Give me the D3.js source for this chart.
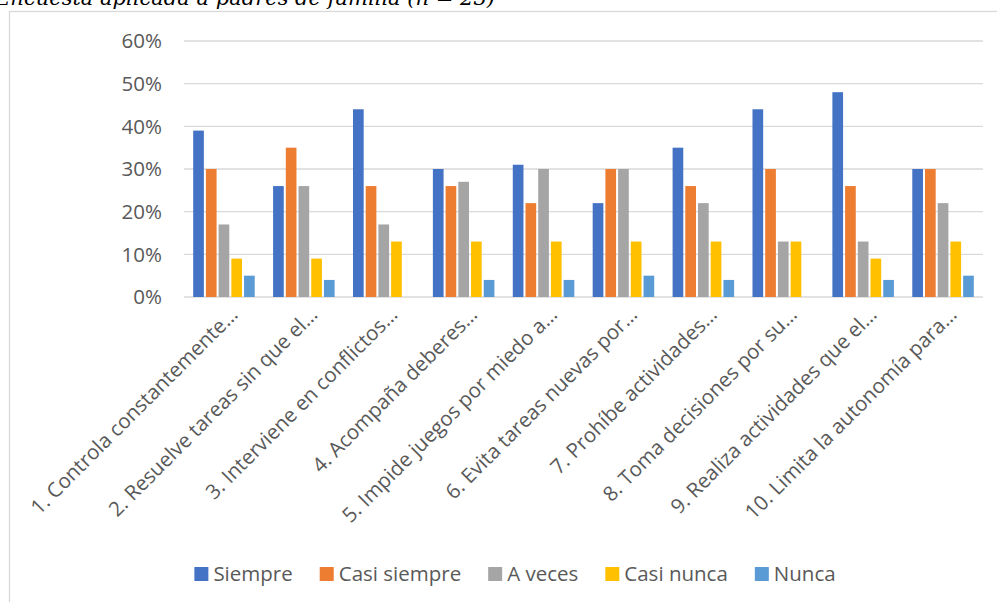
<!DOCTYPE html>
<html>
<head>
<meta charset="utf-8">
<script src="https://cdn.jsdelivr.net/npm/d3@7"></script>
<style>
  html, body { margin: 0; padding: 0; background: #fff; overflow: hidden; }
  svg { display: block; }
</style>
</head>
<body>
<svg id="chart" width="997" height="602"></svg>
<script>
const caption = "Encuesta aplicada a padres de familia (n = 23)";
const categories = [
  "1. Controla constantemente…",
  "2. Resuelve tareas sin que el…",
  "3. Interviene en conflictos…",
  "4. Acompaña deberes…",
  "5. Impide juegos por miedo a…",
  "6. Evita tareas nuevas por…",
  "7. Prohíbe actividades…",
  "8. Toma decisiones por su…",
  "9. Realiza actividades que el…",
  "10. Limita la autonomía para…"
];
const seriesNames = ["Siempre", "Casi siempre", "A veces", "Casi nunca", "Nunca"];
const siempre     = [39, 26, 44, 30, 31, 22, 35, 44, 48, 30];
const casiSiempre = [30, 35, 26, 26, 22, 30, 26, 30, 26, 30];
const aVeces      = [17, 26, 17, 27, 30, 30, 22, 13, 13, 22];
const casiNunca   = [ 9,  9, 13, 13, 13, 13, 13, 13,  9, 13];
const nunca       = [ 5,  4,  0,  4,  4,  5,  4,  0,  4,  5];
const yTicks = [0, 10, 20, 30, 40, 50, 60];
const colors = ["#4472C4", "#ED7D31", "#A5A5A5", "#FFC000", "#5B9BD5"];

const seriesValues = [siempre, casiSiempre, aVeces, casiNunca, nunca];
const svg = d3.select("#chart");
const textColor = "#595959";
const font = "'Open Sans', sans-serif";

// chart frame (clipped by window at right and bottom)
svg.append("rect")
  .attr("x", 9.5).attr("y", 11.5)
  .attr("width", 1000).attr("height", 600)
  .attr("fill", "#fff").attr("stroke", "#D9D9D9").attr("stroke-width", 1.3);

// caption partially cut at top, as in the reference
svg.append("text")
  .attr("x", 495).attr("y", 5)
  .attr("text-anchor", "end")
  .attr("font-family", "'DejaVu Serif', serif")
  .attr("font-style", "italic")
  .attr("font-size", 21)
  .attr("textLength", 500)
  .attr("lengthAdjust", "spacingAndGlyphs")
  .attr("fill", "#000")
  .text(caption);

const plotL = 184, plotR = 983, plotT = 41, plotB = 297;
const x0 = d3.scaleBand().domain(categories).range([plotL, plotR]).paddingInner(0.23).paddingOuter(0.115);
const x1 = d3.scaleBand().domain(seriesNames).range([0, x0.bandwidth()]).paddingInner(0.16);
const y = d3.scaleLinear().domain([0, 60]).range([plotB, plotT]);

// gridlines
svg.append("g").selectAll("line").data(yTicks).join("line")
  .attr("x1", plotL).attr("x2", plotR)
  .attr("y1", d => y(d)).attr("y2", d => y(d))
  .attr("stroke", "#D9D9D9").attr("stroke-width", d => d === 0 ? 1.6 : 1.3);

// y axis labels
const yAxis = d3.axisLeft(y).tickValues(yTicks).tickFormat(d => d + "%").tickSize(0).tickPadding(0);
const yg = svg.append("g").attr("transform", `translate(162,0)`).call(yAxis);
yg.select(".domain").remove();
yg.selectAll("text").attr("font-family", font).attr("font-size", 20.5).attr("fill", textColor).attr("dy", "0.34em");

// bars
const groups = svg.append("g").selectAll("g").data(categories).join("g")
  .attr("transform", d => `translate(${x0(d)},0)`);
groups.selectAll("rect")
  .data((d, i) => seriesNames.map((s, j) => ({ s, v: seriesValues[j][i], c: colors[j] })))
  .join("rect")
  .attr("x", d => x1(d.s))
  .attr("width", x1.bandwidth())
  .attr("y", d => y(d.v))
  .attr("height", d => y(0) - y(d.v))
  .attr("fill", d => d.c);

// category labels rotated
svg.append("g").selectAll("text").data(categories).join("text")
  .attr("transform", d => `translate(${x0(d) + x0.bandwidth() / 2 + 15},316) rotate(-45)`)
  .attr("text-anchor", "end")
  .attr("font-family", font).attr("font-size", 20.5).attr("fill", textColor)
  .text(d => d);

// legend
const lg = svg.append("g");
const items = lg.selectAll("g").data(seriesNames).join("g");
items.append("rect").attr("width", 14).attr("height", 14).attr("y", -7)
  .attr("fill", (d, i) => colors[i]);
items.append("text").attr("x", 19).attr("dy", "0.35em")
  .attr("font-family", font).attr("font-size", 20.5).attr("fill", textColor)
  .text(d => d);
let cx = 0;
const positions = [];
items.each(function () {
  const w = 19 + this.querySelector("text").getComputedTextLength();
  positions.push(cx);
  cx += w + 27;
});
const total = cx - 27;
const startX = 515 - total / 2;
items.attr("transform", (d, i) => `translate(${startX + positions[i]},574)`);
</script>
</body>
</html>
